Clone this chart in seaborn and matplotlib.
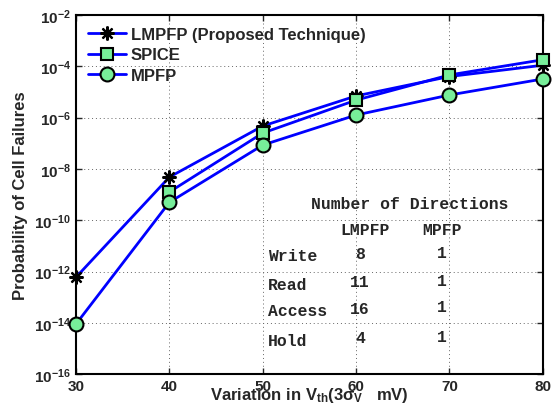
import matplotlib
matplotlib.use("Agg")
import matplotlib.pyplot as plt
import numpy as np
import pandas as pd
import seaborn as sns

# данные
variation = [30, 40, 50, 60, 70, 80]
p_lmpfp = [6e-13, 4.8e-9, 4.7e-7, 7e-6, 4e-5, 1.1e-4]
p_spice = [np.nan, 1.26e-9, 2.5e-7, 4.8e-6, 4.6e-5, 1.8e-4]
p_mpfp = [9e-15, 5e-10, 8.5e-8, 1.26e-6, 7.6e-6, 3.2e-5]

table_rows = ["Write", "Read", "Access", "Hold"]
dirs_lmpfp = [8, 11, 16, 4]
dirs_mpfp = [1, 1, 1, 1]

sns.set_theme(style="ticks")
plt.rcParams["font.family"] = ["Liberation Sans", "DejaVu Sans"]
plt.rcParams["font.weight"] = "bold"
plt.rcParams["mathtext.fontset"] = "custom"
plt.rcParams["mathtext.rm"] = "Liberation Sans:bold"
plt.rcParams["mathtext.it"] = "Liberation Sans:bold"
plt.rcParams["mathtext.bf"] = "Liberation Sans:bold"

df = pd.DataFrame({
    "x": variation * 3,
    "p": p_lmpfp + p_spice + p_mpfp,
    "series": ["LMPFP (Proposed Technique)"] * 6 + ["SPICE"] * 6 + ["MPFP"] * 6,
})

fig = plt.figure(figsize=(5.59, 4.10), dpi=100)
ax = fig.add_axes([0.136, 0.085, 0.835, 0.876])

green = "#77EE99"
styles = {
    # звёздочка как в MATLAB
    "LMPFP (Proposed Technique)": dict(marker=(8, 2, 0), markersize=10, markerfacecolor="black",
                                       markeredgecolor="black", markeredgewidth=1.6),
    "SPICE": dict(marker="s", markersize=8, markerfacecolor=green,
                  markeredgecolor="black", markeredgewidth=1.5),
    "MPFP": dict(marker="o", markersize=10, markerfacecolor=green,
                 markeredgecolor="black", markeredgewidth=1.5),
}
for name, st in styles.items():
    sub = df[df["series"] == name].dropna()
    sns.lineplot(data=sub, x="x", y="p", ax=ax, color="#0000FF", linewidth=2,
                 label=name, clip_on=False, zorder=3, **st)

ax.set_yscale("log")
ax.set_xlim(30, 80)
ax.set_ylim(1e-16, 1e-2)
ax.set_xticks(variation)
ax.set_yticks([10.0 ** e for e in range(-16, -1, 2)])
ax.minorticks_off()
ax.tick_params(labelsize=11, direction="in", length=4, width=1, top=True, right=True)
for lab in ax.get_xticklabels() + ax.get_yticklabels():
    lab.set_fontweight("bold")
ax.grid(True, linestyle=(0, (1, 3)), color="#666666", linewidth=0.7)
for s in ax.spines.values():
    s.set_linewidth(1.5)
    s.set_color("black")

ax.set_xlabel(r"Variation in V$_{\mathrm{th}}$(3$\sigma_{\mathrm{V}}$   mV)",
              fontsize=12, fontweight="bold", labelpad=-6)
ax.set_ylabel("Probability of Cell Failures", fontsize=12, fontweight="bold", labelpad=4)

leg = ax.legend(loc="upper left", frameon=False, handlelength=2.3,
                borderaxespad=0.3, labelspacing=0.35, handletextpad=0.3,
                prop={"weight": "bold", "size": 12})

# таблица с числом направлений
mono = dict(family=["Liberation Mono", "DejaVu Sans Mono"], fontweight="bold",
            fontsize=11.8, transform=ax.transAxes)
ax.text(0.715, 0.476, "Number of Directions", ha="center", va="center", **mono)
ax.text(0.619, 0.404, "LMPFP", ha="center", va="center", **mono)
ax.text(0.784, 0.404, "MPFP", ha="center", va="center", **mono)
row_y = [0.329, 0.251, 0.178, 0.095]
for i, name in enumerate(table_rows):
    ax.text(0.411, row_y[i], name, ha="left", va="center", **mono)
    ax.text(0.608, row_y[i] + 0.006, str(dirs_lmpfp[i]), ha="center", va="center", **mono)
    ax.text(0.784, row_y[i] + 0.01, str(dirs_mpfp[i]), ha="center", va="center", **mono)

fig.savefig("out.png", dpi=100)
